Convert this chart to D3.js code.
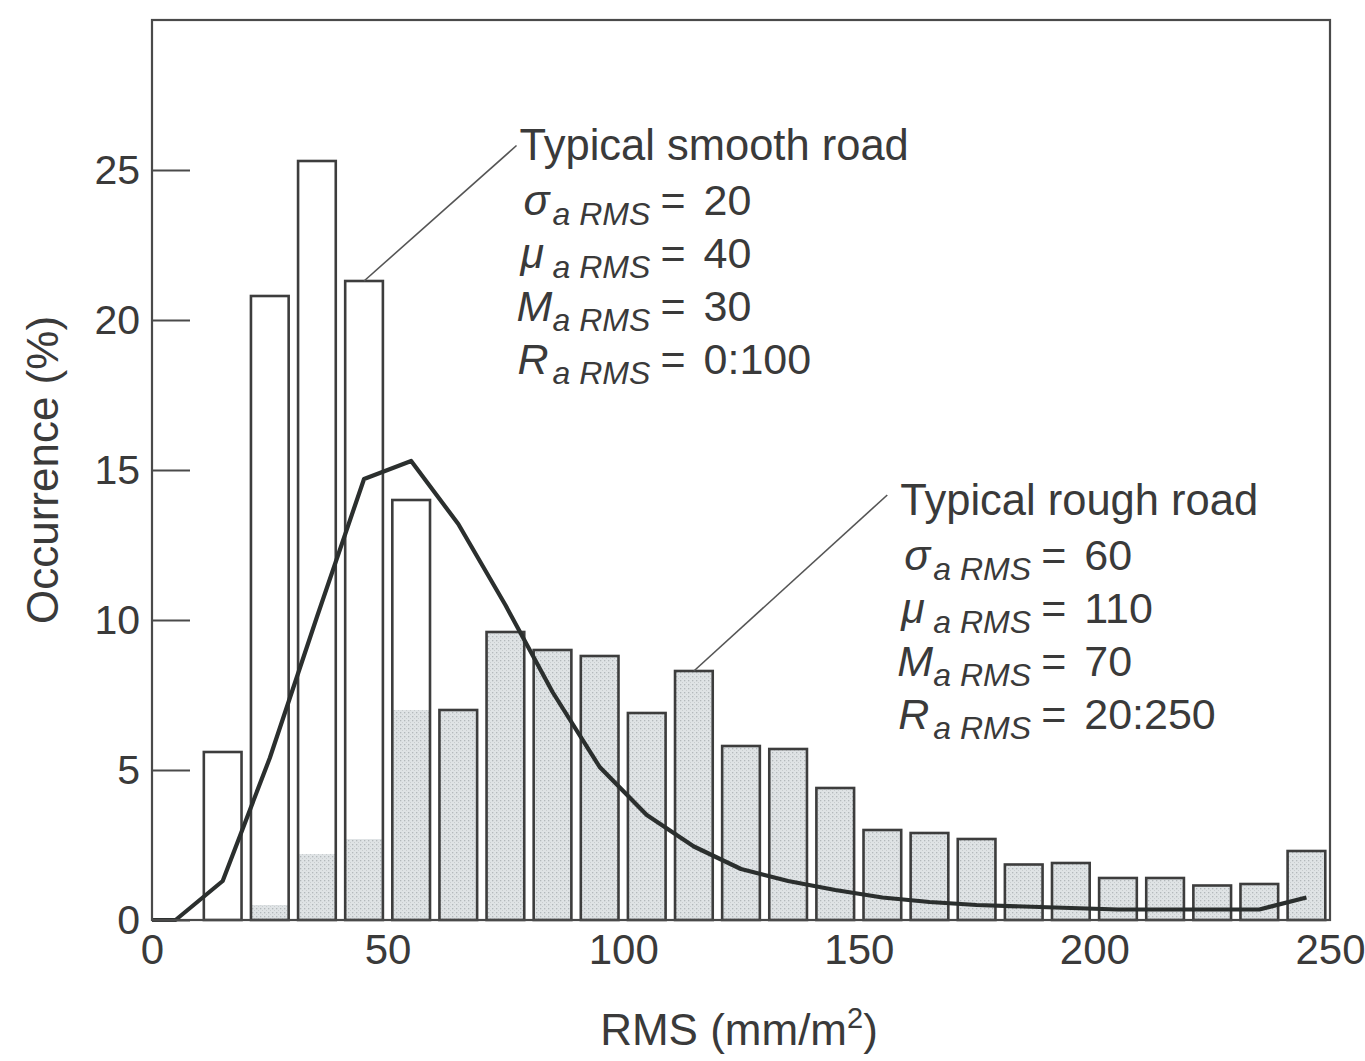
<!DOCTYPE html>
<html>
<head>
<meta charset="utf-8">
<script src="https://cdn.jsdelivr.net/npm/d3@7"></script>
<style>
  html, body { margin: 0; padding: 0; background: #fff; }
  svg { display: block; }
  text { font-family: "Liberation Sans", Arial, Helvetica, sans-serif; fill: #3a3a3a; }
</style>
</head>
<body>
<svg id="chart" width="1365" height="1061"></svg>
<script>
// Histogram bins (centre of each 10 mm/m² class)
const binCenters = [15, 25, 35, 45, 55, 65, 75, 85, 95, 105, 115, 125, 135, 145, 155, 165, 175, 185, 195, 205, 215, 225, 235, 245];
// Occurrence (%) per bin – typical smooth road (white bars)
const smoothRoad = [5.6, 20.8, 25.3, 21.3, 14.0, null, null, null, null, null, null, null, null, null, null, null, null, null, null, null, null, null, null, null];
// Occurrence (%) per bin – typical rough road (shaded bars)
const roughRoad = [0, 0.5, 2.2, 2.7, 7.0, 7.0, 9.6, 9.0, 8.8, 6.9, 8.3, 5.8, 5.7, 4.4, 3.0, 2.9, 2.7, 1.85, 1.9, 1.4, 1.4, 1.15, 1.2, 2.3];
// Fitted distribution curve
const curveX = [0, 5, 15, 25, 35, 45, 55, 65, 75, 85, 95, 105, 115, 125, 135, 145, 155, 165, 175, 185, 195, 205, 215, 225, 235, 245];
const curveY = [0, 0, 1.3, 5.4, 10.1, 14.7, 15.3, 13.2, 10.5, 7.6, 5.1, 3.5, 2.45, 1.7, 1.3, 1.0, 0.75, 0.6, 0.5, 0.45, 0.4, 0.35, 0.35, 0.35, 0.35, 0.75];
// Axis ticks
const xTicks = [0, 50, 100, 150, 200, 250];
const yTicks = [0, 5, 10, 15, 20, 25];
// Annotation blocks
const smoothNote = { title: "Typical smooth road", sigma: "20", mu: "40", M: "30", R: "0:100" };
const roughNote = { title: "Typical rough road", sigma: "60", mu: "110", M: "70", R: "20:250" };

const binWidth = 8; // drawn bar width in data units (10-unit classes with gaps)

const svg = d3.select("#chart");
const plotLeft = 152, plotRight = 1330, plotTop = 20, plotBottom = 920;

const x = d3.scaleLinear().domain([0, 250]).range([plotLeft, plotRight]);
const y = d3.scaleLinear().domain([0, 30]).range([plotBottom, plotTop]);

// Stippled fill for the rough-road bars
const defs = svg.append("defs");
const pat = defs.append("pattern")
  .attr("id", "stipple").attr("patternUnits", "userSpaceOnUse")
  .attr("width", 4).attr("height", 4);
pat.append("rect").attr("width", 4).attr("height", 4).attr("fill", "#dfe3e5");
pat.append("rect").attr("x", 0).attr("y", 0).attr("width", 1.3).attr("height", 1.3).attr("fill", "#b3b8bb");
pat.append("rect").attr("x", 2).attr("y", 2).attr("width", 1).attr("height", 1).attr("fill", "#c8ccce");

const bins = binCenters.map((c, i) => ({ c, s: smoothRoad[i], r: roughRoad[i] }));

// Shaded (rough road) portions
svg.append("g").selectAll("rect")
  .data(bins.filter(d => d.r > 0))
  .join("rect")
  .attr("x", d => x(d.c - binWidth / 2))
  .attr("width", d => x(d.c + binWidth / 2) - x(d.c - binWidth / 2))
  .attr("y", d => y(d.r))
  .attr("height", d => y(0) - y(d.r))
  .attr("fill", "url(#stipple)");

// Bar outlines (taller of the two series)
svg.append("g").selectAll("rect")
  .data(bins)
  .join("rect")
  .attr("x", d => x(d.c - binWidth / 2))
  .attr("width", d => x(d.c + binWidth / 2) - x(d.c - binWidth / 2))
  .attr("y", d => y(Math.max(d.s || 0, d.r || 0)))
  .attr("height", d => y(0) - y(Math.max(d.s || 0, d.r || 0)))
  .attr("fill", "none")
  .attr("stroke", "#3d3d3d")
  .attr("stroke-width", 2.6);

// Fitted curve
const line = d3.line().x((d, i) => x(curveX[i])).y(d => y(d)).curve(d3.curveLinear);
svg.append("path")
  .datum(curveY)
  .attr("d", line)
  .attr("fill", "none")
  .attr("stroke", "#2b2f2e")
  .attr("stroke-width", 4.2)
  .attr("stroke-linejoin", "round");

// Plot frame
svg.append("rect")
  .attr("x", plotLeft).attr("y", plotTop)
  .attr("width", plotRight - plotLeft).attr("height", plotBottom - plotTop)
  .attr("fill", "none").attr("stroke", "#4a4a4a").attr("stroke-width", 2.2);

// Y axis: ticks pointing into the plot
const yAxis = svg.append("g")
  .attr("transform", `translate(${plotLeft},0)`)
  .call(d3.axisLeft(y).tickValues(yTicks).tickSizeInner(-38).tickSizeOuter(0).tickPadding(12));
yAxis.select(".domain").remove();
yAxis.selectAll(".tick line").attr("stroke", "#4a4a4a").attr("stroke-width", 2.2);
yAxis.selectAll(".tick text").attr("font-size", 41).attr("fill", "#444").attr("font-family", "Liberation Sans, Arial, sans-serif");

// X axis: labels only
const xAxis = svg.append("g")
  .attr("transform", `translate(0,${plotBottom})`)
  .call(d3.axisBottom(x).tickValues(xTicks).tickSize(0).tickPadding(14));
xAxis.select(".domain").remove();
xAxis.selectAll(".tick text")
  .attr("font-size", 42).attr("fill", "#444").attr("font-family", "Liberation Sans, Arial, sans-serif");

// Axis titles
svg.append("text")
  .attr("transform", "translate(58,470) rotate(-90)")
  .attr("text-anchor", "middle")
  .attr("font-size", 44)
  .text("Occurrence (%)");

const xt = svg.append("text")
  .attr("x", 739).attr("y", 1045)
  .attr("text-anchor", "middle")
  .attr("font-size", 44);
xt.append("tspan").text("RMS (mm/m");
xt.append("tspan").attr("font-size", 29).attr("dy", -17).text("2");
xt.append("tspan").attr("dy", 17).text(")");

// Annotation blocks: title line plus four statistics rows
function note(block, px, py) {
  const g = svg.append("g");
  g.append("text").attr("x", px).attr("y", py).attr("font-size", 43.5).text(block.title);
  const rows = [
    { sym: "\u03C3", val: block.sigma, dx: 4 },
    { sym: "\u03BC", val: block.mu, dx: 1 },
    { sym: "M", val: block.M, dx: -3 },
    { sym: "R", val: block.R, dx: -2 }
  ];
  rows.forEach((r, i) => {
    const t = g.append("text")
      .attr("y", py + 55 + i * 53)
      .attr("font-size", 43);
    t.append("tspan").attr("x", px + r.dx).attr("font-style", "italic").text(r.sym);
    t.append("tspan").attr("x", px + 33).attr("font-style", "italic").attr("font-size", 32)
      .attr("dy", 10).text("a RMS");
    t.append("tspan").attr("x", px + 141).attr("dy", -10).text("=");
    t.append("tspan").attr("x", px + 184).text(r.val);
  });
}

const sx = x(78.0), sy = y(25.35);
note(smoothNote, sx, sy);
const rx = x(158.8), ry = y(13.5);
note(roughNote, rx, ry);

// Leader lines from the labelled bars to their annotations
const smoothIdx = binCenters.indexOf(45);
const roughIdx = binCenters.indexOf(115);
svg.append("line")
  .attr("x1", x(45)).attr("y1", y(smoothRoad[smoothIdx]))
  .attr("x2", sx - 3).attr("y2", sy - 14)
  .attr("stroke", "#555").attr("stroke-width", 1.6);
svg.append("line")
  .attr("x1", x(115)).attr("y1", y(roughRoad[roughIdx]))
  .attr("x2", rx - 13).attr("y2", ry - 20)
  .attr("stroke", "#555").attr("stroke-width", 1.6);
</script>
</body>
</html>
